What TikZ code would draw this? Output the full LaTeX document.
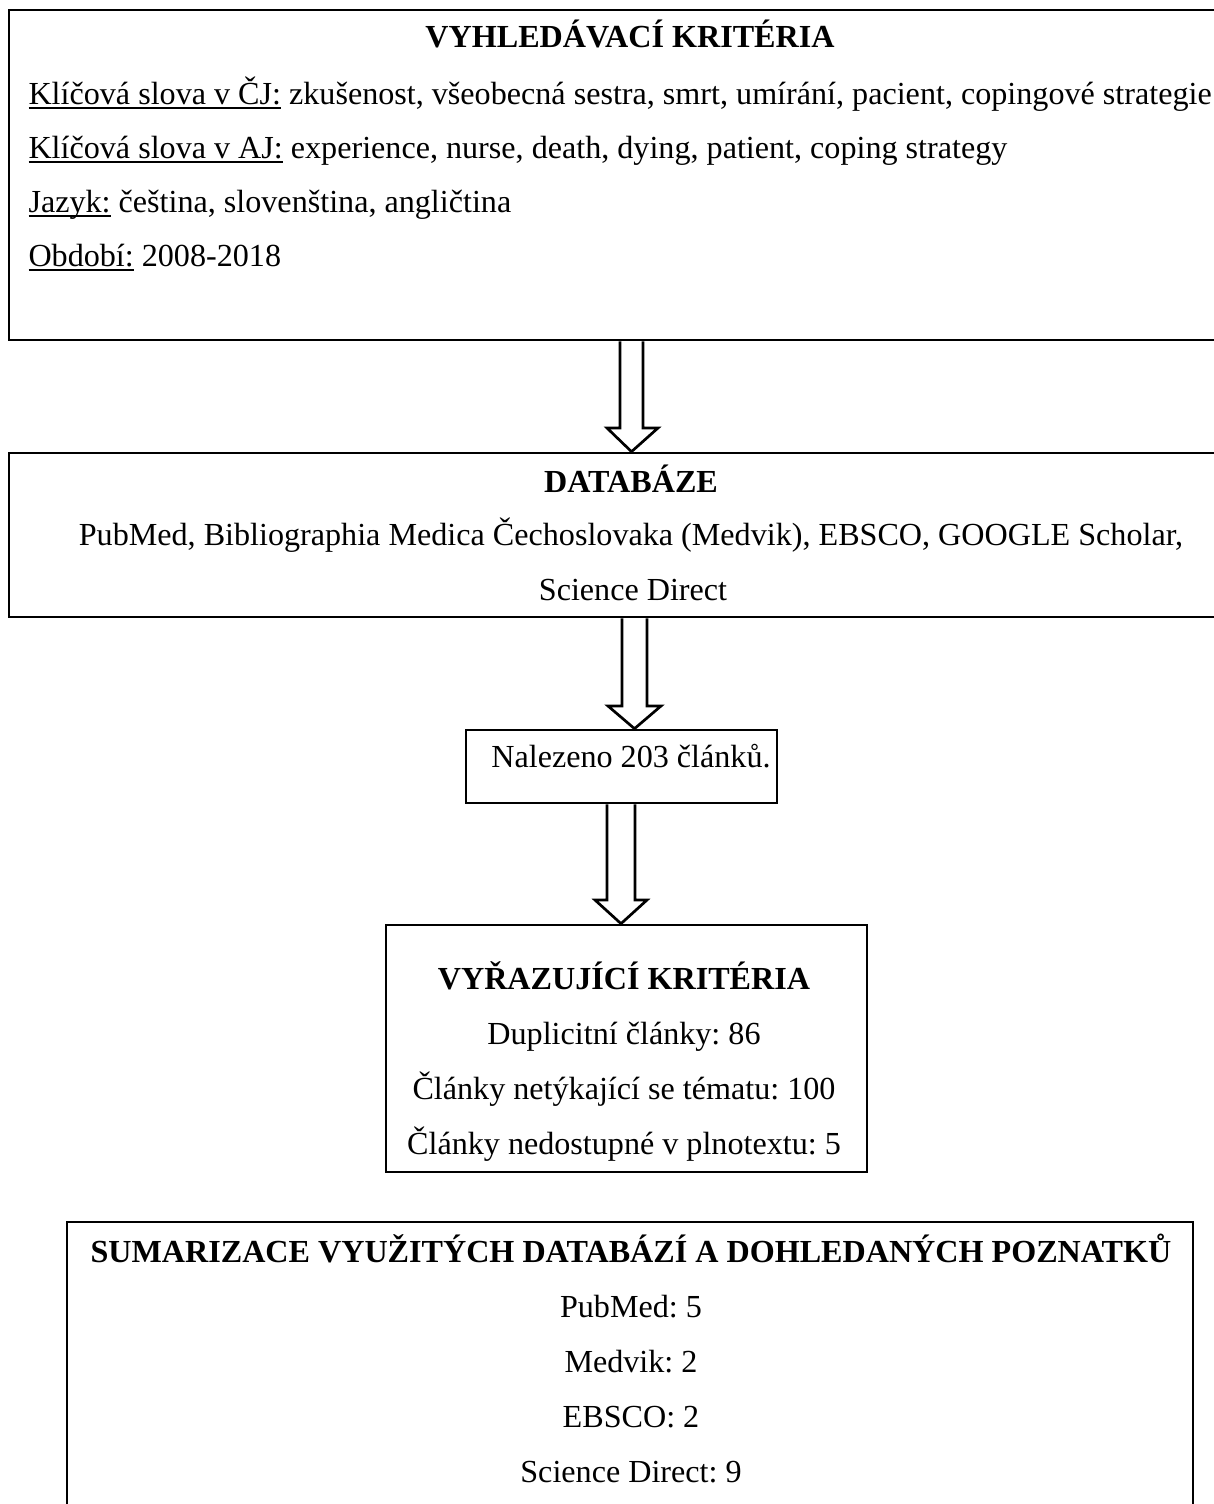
\documentclass[tikz,border=0pt]{standalone}
\usepackage{fontspec}
\setmainfont{Liberation Serif}
\usetikzlibrary{fit}
\newcommand\myul[1]{\setbox0\hbox{#1}\rlap{\vrule height -1.2pt depth 2.0pt width \wd0}\box0\relax}
\frenchspacing
\begin{document}
\begin{tikzpicture}[x=0.3906pt,y=-0.3906pt,
  box/.style={draw, line width=1.05pt, inner sep=0pt},
  txt/.style={inner sep=0pt, anchor=base, font=\fontsize{12.55}{15}\selectfont\frenchspacing},
  ltxt/.style={txt, anchor=base west},
  headtxt/.style={txt, font=\fontsize{12.55}{15}\selectfont\bfseries\frenchspacing},
  blockarrow/.style={draw, line width=1.05pt, fill=white, line join=miter}]
\useasboundingbox (0,0) rectangle (1214,1504);

% boxes
\node[box, fit={(9,10) (1256,340)}] (b1) {};
\node[box, fit={(9,453) (1256,617)}] (b2) {};
\node[box, fit={(466,730) (777,803)}] (b3) {};
\node[box, fit={(386,925) (867,1172)}] (b4) {};
\node[box, fit={(67,1222) (1193,1580)}] (b5) {};

% block arrows
\draw[blockarrow] (620,0 |- b1.south) -- (620,428) -- (607,428) -- (631.5,0 |- b2.north)
  -- (658,428) -- (643,428) -- (643,0 |- b1.south);
\draw[blockarrow] (622,0 |- b2.south) -- (622,706) -- (608,706) -- (634.5,0 |- b3.north)
  -- (661,706) -- (647,706) -- (647,0 |- b2.south);
\draw[blockarrow] (607,0 |- b3.south) -- (607,900) -- (595,900) -- (621,0 |- b4.north)
  -- (647,900) -- (635,900) -- (635,0 |- b3.south);

% texts box 1
\node[headtxt] (t1) at (630,47) {VYHLEDÁVACÍ KRITÉRIA};
\node[ltxt] (t1a) at (28,104) {\myul{Klíčová slova v ČJ:} zkušenost, všeobecná sestra, smrt, umírání, pacient, copingové strategie};
\node[ltxt] (t1b) at (28,158) {\myul{Klíčová slova v AJ:} experience, nurse, death, dying, patient, coping strategy};
\node[ltxt] (t1c) at (28,212) {\myul{Jazyk:} čeština, slovenština, angličtina};
\node[ltxt] (t1d) at (28,266) {\myul{Období:} 2008-2018};

% texts box 2
\node[headtxt] (t2) at (631,492) {DATABÁZE};
\node[txt] (t2a) at (631,545) {PubMed, Bibliographia Medica Čechoslovaka (Medvik), EBSCO, GOOGLE Scholar,};
\node[txt] (t2b) at (633,600) {Science Direct};

% text box 3
\node[txt] (t3) at (631,767) {Nalezeno 203 článků.};

% texts box 4
\node[headtxt] (t4) at (624,989) {VYŘAZUJÍCÍ KRITÉRIA};
\node[txt] (t4a) at (624,1044) {Duplicitní články: 86};
\node[txt] (t4b) at (624,1099) {Články netýkající se tématu: 100};
\node[txt] (t4c) at (624,1154) {Články nedostupné v plnotextu: 5};

% texts box 5
\node[headtxt] (t5) at (631,1262) {SUMARIZACE VYUŽITÝCH DATABÁZÍ A DOHLEDANÝCH POZNATKŮ};
\node[txt] (t5a) at (631,1317) {PubMed: 5};
\node[txt] (t5b) at (631,1372) {Medvik: 2};
\node[txt] (t5c) at (631,1427) {EBSCO: 2};
\node[txt] (t5d) at (631,1482) {Science Direct: 9};
\end{tikzpicture}
\end{document}
